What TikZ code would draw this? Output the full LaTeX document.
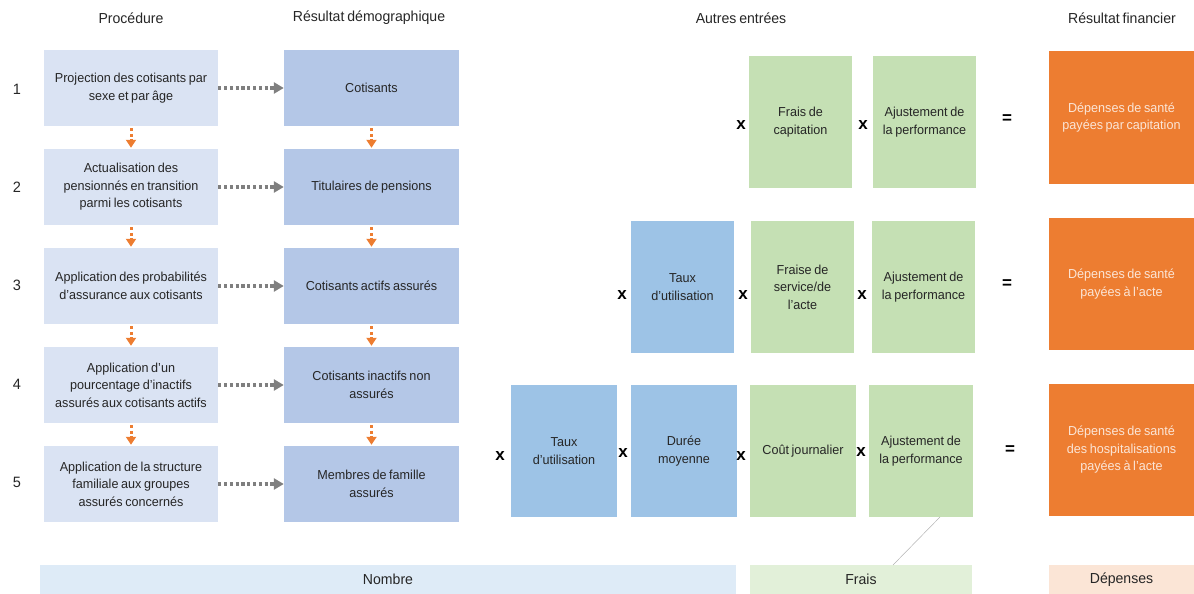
\documentclass[tikz,border=0pt]{standalone}
\usepackage{fontspec}
\setmainfont{Liberation Sans}
\newfontfamily\tightfont{Liberation Sans}[FakeStretch=0.97, WordSpace=0.75]
\usetikzlibrary{arrows.meta}
\definecolor{procfill}{HTML}{DAE3F3}
\definecolor{demofill}{HTML}{B4C7E7}
\definecolor{usefill}{HTML}{9DC3E6}
\definecolor{costfill}{HTML}{C5E0B4}
\definecolor{spendfill}{HTML}{ED7D31}
\definecolor{spendtext}{HTML}{FBE5D6}
\definecolor{nbfill}{HTML}{DEEBF7}
\definecolor{frfill}{HTML}{E2F0D9}
\definecolor{dpfill}{HTML}{FBE5D6}
\definecolor{dotgray}{HTML}{7F7F7F}
\definecolor{dotorange}{HTML}{ED7D31}
\definecolor{ink}{HTML}{262626}
\begin{document}
\begin{tikzpicture}[x=1pt,y=-1pt,
  box/.style={inner sep=0pt, align=center, text=ink,
    font=\tightfont\fontsize{13}{17.5}\selectfont},
  sz/.style 2 args={minimum width=#1pt, minimum height=#2pt},
  proc/.style={box, fill=procfill, sz={174}{76}},
  demo/.style={box, fill=demofill, sz={175}{76}},
  use/.style={box, fill=usefill},
  cost/.style={box, fill=costfill},
  spend/.style={box, fill=spendfill, text=spendtext, sz={145}{132}},
  head/.style={inner sep=0pt, text=ink, font=\tightfont\fontsize{14.5}{18}\selectfont},
  rownum/.style={inner sep=0pt, text=ink, font=\tightfont\fontsize{15}{18}\selectfont},
  op/.style={inner sep=0pt, text=black, font=\bfseries\fontsize{17}{20}\selectfont},
  bar/.style={inner sep=0pt, text=ink, font=\tightfont\fontsize{14.5}{18}\selectfont, minimum height=29pt},
  grayarrow/.style={draw=dotgray, line width=3.2pt, dash pattern=on 3.2pt off 2.6pt,
    -{Triangle[length=10pt,width=11pt]}},
  orangearrow/.style={draw=dotorange, line width=3pt, dash pattern=on 3pt off 2.6pt,
    -{Triangle[length=8pt,width=10pt]}, shorten <=2pt, shorten >=1pt}
]
\useasboundingbox (0,0) rectangle (1194,594);

% column headings
\node[head] (hproc) at (131,18) {Procédure};
\node[head] (hdemo) at (369,18) {Résultat démographique};
\node[head] (hother) at (741,18) {Autres entrées};
\node[head] (hfin) at (1122,18) {Résultat financier};

% step numbers
\node[rownum] (n1) at (17,89) {1};
\node[rownum] (n2) at (17,187) {2};
\node[rownum] (n3) at (17,285) {3};
\node[rownum] (n4) at (17,384) {4};
\node[rownum] (n5) at (17,482) {5};

% procedure steps
\node[proc] (p1) at (131,88) {Projection des cotisants par\\sexe et par âge};
\node[proc] (p2) at (131,187) {Actualisation des\\pensionnés en transition\\parmi les cotisants};
\node[proc] (p3) at (131,286) {Application des probabilités\\d’assurance aux cotisants};
\node[proc] (p4) at (131,385) {Application d’un\\pourcentage d’inactifs\\assurés aux cotisants actifs};
\node[proc] (p5) at (131,484) {Application de la structure\\familiale aux groupes\\assurés concernés};

% demographic results
\node[demo] (d1) at (371.5,88) {Cotisants};
\node[demo] (d2) at (371.5,187) {Titulaires de pensions};
\node[demo] (d3) at (371.5,286) {Cotisants actifs assurés};
\node[demo] (d4) at (371.5,385) {Cotisants inactifs non\\assurés};
\node[demo] (d5) at (371.5,484) {Membres de famille\\assurés};

\foreach \i in {1,...,5} { \draw[grayarrow] (p\i.east) -- (d\i.west); }
\foreach \i/\j in {1/2,2/3,3/4,4/5} {
  \draw[orangearrow] (p\i.south) -- (p\j.north);
  \draw[orangearrow] (d\i.south) -- (d\j.north);
}

% capitation
\node[cost, sz={103}{132}] (ca) at (800.5,122) {Frais de\\capitation};
\node[cost, sz={103}{132}] (cb) at (924.5,122) {Ajustement de\\la performance};
\node[spend] (cr) at (1121.5,117.5) {Dépenses de santé\\payées par capitation};
\node[op] (cx1) at (741,125) {x};
\node[op] (cx2) at (863,125) {x};
\node[op] (ceq) at (1007,119) {=};

% fee for service
\node[use, sz={103}{132}] (fa) at (682.5,287) {Taux\\d’utilisation};
\node[cost, sz={103}{132}] (fb) at (802.5,287) {Fraise de\\service/de\\l’acte};
\node[cost, sz={103}{132}] (fc) at (923.5,287) {Ajustement de\\la performance};
\node[spend] (fr) at (1121.5,284) {Dépenses de santé\\payées à l’acte};
\node[op] (fx1) at (622,295) {x};
\node[op] (fx2) at (743,295) {x};
\node[op] (fx3) at (862,295) {x};
\node[op] (feq) at (1007,284) {=};

% hospitalisation
\node[use, sz={106}{132}] (ha) at (564,451) {Taux\\d’utilisation};
\node[use, sz={106}{132}] (hb) at (684,451) {Durée\\moyenne};
\node[cost, sz={106}{132}] (hc) at (803,451) {Coût journalier};
\node[cost, sz={104}{132}] (hd) at (921,451) {Ajustement de\\la performance};
\node[spend] (hr) at (1121.5,450) {Dépenses de santé\\des hospitalisations\\payées à l’acte};
\node[op] (hx1) at (500,456) {x};
\node[op] (hx2) at (623,453) {x};
\node[op] (hx3) at (741,456) {x};
\node[op] (hx4) at (861,452) {x};
\node[op] (heq) at (1010,450) {=};

% category bars
\node[bar, fill=nbfill, minimum width=696pt] (bn) at (388,579.5) {Nombre};
\node[bar, fill=frfill, minimum width=222pt] (bf) at (861,579.5) {Frais};
\node[bar, fill=dpfill, minimum width=145pt] (bd) at (1121.5,579.5) {Dépenses};

\coordinate (lk1) at (940,517);
\coordinate (lk2) at (893,565);
\draw[black!30, line width=0.5pt] (lk1) -- (lk2);
\end{tikzpicture}
\end{document}
